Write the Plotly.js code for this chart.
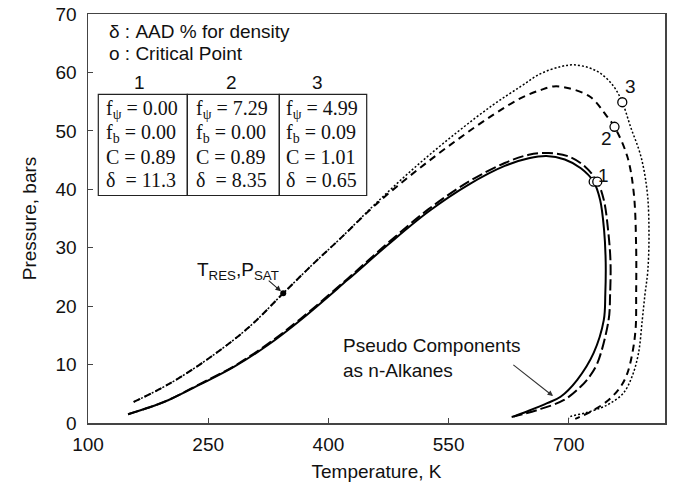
<!DOCTYPE html>
<html><head><meta charset="utf-8">
<script src="https://cdn.plot.ly/plotly-3.0.1.min.js"></script>
<style>html,body{margin:0;padding:0;background:#fff}</style>
</head><body><div id="chart" style="width:673px;height:487px"></div>
<script>
// Case 1 (solid)
const T1 = [150, 175, 200, 240, 282, 325, 365, 424, 475, 525, 575, 620, 650, 672, 695, 715, 731, 739, 744, 746, 745.5, 743.6, 731, 710.5, 689.7, 673, 650, 631];
const P1 = [1.5, 2.6, 3.9, 6.6, 9.6, 13.4, 17.6, 24.5, 30.6, 36.2, 40.8, 44.0, 45.3, 45.7, 45.1, 43.6, 41.3, 38.2, 33.0, 27.5, 22.0, 17.6, 12.0, 7.4, 4.5, 3.4, 2.1, 1.1];
// Pseudo components as n-alkanes (long dash)
const TA = [150, 175, 200, 240, 282, 325, 365, 424, 475, 525, 575, 620, 650, 675, 700, 720, 735.5, 743.6, 749, 752, 751.5, 749.6, 735.5, 725, 714.6, 693.4, 660, 628];
const PA = [1.5, 2.6, 3.9, 6.7, 9.7, 13.6, 17.8, 24.7, 30.9, 36.6, 41.3, 44.5, 45.9, 46.2, 45.6, 43.9, 41.3, 38.2, 33.0, 27.5, 22.0, 17.6, 10.2, 7.8, 6.2, 3.9, 2.2, 1.0];
// Case 2 (dashed)
const T2 = [157, 200, 250, 300, 343.6, 380, 415, 460, 510, 560, 605, 640, 665, 681, 700, 727, 748, 757, 773, 781, 784, 784, 783.5, 780, 773, 764.6, 750, 731, 714.6, 708];
const P2 = [3.6, 6.6, 11.0, 16.3, 22.2, 27.1, 31.6, 37.5, 43.2, 48.4, 52.7, 55.6, 57.0, 57.6, 57.3, 55.8, 52.4, 50.7, 45.6, 39.4, 30.0, 22.0, 16.5, 12.5, 8.5, 6.2, 4.0, 2.2, 1.1, 0.7];
// Case 3 (dotted)
const T3 = [157, 200, 250, 300, 343.6, 380, 415, 460, 510, 560, 605, 640, 665, 690, 706, 725, 740, 756, 766.7, 777, 790, 798, 800, 798.5, 795, 791.6, 787, 779, 768, 752, 740, 720, 702, 699.6];
const P3 = [3.6, 6.6, 11.0, 16.3, 22.2, 27.1, 31.6, 37.7, 44.0, 49.7, 54.4, 57.6, 59.8, 61.0, 61.3, 60.8, 59.8, 57.6, 54.9, 50.7, 45.6, 39.3, 32.0, 26.0, 22.0, 17.6, 12.0, 8.0, 5.1, 3.4, 2.6, 1.7, 1.1, 0.8];
// Critical points
const cpT = [731, 735.5, 757, 766.7];
const cpP = [41.3, 41.3, 50.7, 54.9];
// Reservoir point
const resT = [343.6];
const resP = [22.2];
// Ticks
const xTicks = [100, 250, 400, 550, 700];
const yTicks = [0, 10, 20, 30, 40, 50, 60, 70];
// Table
const colHeads = ['1', '2', '3'];
const fPsi = ['0.00', '7.29', '4.99'];
const fB = ['0.00', '0.00', '0.09'];
const Cval = ['0.89', '0.89', '1.01'];
const delta = ['11.3', '8.35', '0.65'];

const K = 'black';
const sp = {shape: 'spline', smoothing: 1};
const traces = [
  {x: TA, y: PA, mode: 'lines', line: Object.assign({color: K, width: 2, dash: '11px,4px'}, sp)},
  {x: T1, y: P1, mode: 'lines', line: Object.assign({color: K, width: 2}, sp)},
  {x: T2, y: P2, mode: 'lines', line: Object.assign({color: K, width: 2, dash: '7px,5px'}, sp)},
  {x: T3, y: P3, mode: 'lines', line: Object.assign({color: K, width: 1.5, dash: '2px,2px'}, sp)},
  {x: cpT, y: cpP, mode: 'markers', marker: {symbol: 'circle', size: 9, color: 'white', line: {color: K, width: 1.3}}},
  {x: resT, y: resP, mode: 'markers', marker: {symbol: 'circle', size: 6, color: K}}
];

const W = 577, H = 409, L0 = 88, B0 = 423;
const px = v => (v - L0) / W;
const py = v => (B0 - v) / H;
const sans = 'Arial, "Liberation Sans", sans-serif';
const serif = '"Times New Roman", "Liberation Serif", serif';

const ann = [];
function txt(x, y, t, opts) {
  ann.push(Object.assign({xref: 'paper', yref: 'paper', x: px(x), y: py(y), text: t, showarrow: false,
    xanchor: 'left', yanchor: 'middle', font: {family: sans, size: 19, color: '#111'}}, opts || {}));
}
txt(107, 32, 'δ : AAD % for density');
txt(107, 53, 'o : Critical Point');
const colX = [139.3, 231, 317.7];
const cellX = [104, 194, 284];
const rowY = [110, 133.3, 156.5, 180];
for (let i = 0; i < 3; i++) {
  txt(colX[i], 83, colHeads[i], {xanchor: 'center'});
  const sf = {family: serif, size: 20, color: '#111'};
  txt(cellX[i], rowY[0], 'f<sub>ψ</sub> = ' + fPsi[i], {font: sf});
  txt(cellX[i], rowY[1], 'f<sub>b</sub> = ' + fB[i], {font: sf});
  txt(cellX[i], rowY[2], 'C = ' + Cval[i], {font: sf});
  txt(cellX[i], rowY[3], 'δ\u00a0 = ' + delta[i], {font: sf});
}
txt(603, 175, '1', {xanchor: 'center'});
txt(606, 138, '2', {xanchor: 'center'});
txt(630.5, 86.5, '3', {xanchor: 'center'});
txt(281, 271, 'T<sub>RES</sub>,P<sub>SAT</sub>', {xanchor: 'right'});
txt(341, 358, 'Pseudo Components<br>as n-Alkanes', {align: 'left'});
ann.push({x: resT[0], y: resP[0], xref: 'x', yref: 'y', text: '', showarrow: true, ax: -16, ay: -14,
  arrowhead: 2, arrowsize: 1, arrowwidth: 1.1, arrowcolor: '#222', standoff: 3});
ann.push({x: 681.3, y: 4.5, xref: 'x', yref: 'y', text: '', showarrow: true, ax: -42, ay: -33,
  arrowhead: 2, arrowsize: 1, arrowwidth: 1.1, arrowcolor: '#333', standoff: 1});

const boxX = [98.3, 187.3, 279.3, 366.7];
const shapes = [];
for (let i = 0; i < 3; i++) {
  shapes.push({type: 'rect', xref: 'paper', yref: 'paper', x0: px(boxX[i]), x1: px(boxX[i + 1]),
    y0: py(195.5), y1: py(94.3), line: {color: '#222', width: 1.2}});
}

const axisCommon = {ticks: 'inside', ticklen: 5, tickcolor: '#444', tickwidth: 1.2, showline: true, mirror: true,
  linecolor: '#444', linewidth: 1.5, showgrid: false, zeroline: false,
  tickfont: {family: sans, size: 19, color: '#111'}};

const layout = {
  width: 673, height: 487,
  margin: {l: 88, r: 8, t: 14, b: 64, pad: 0},
  paper_bgcolor: 'white', plot_bgcolor: 'white',
  showlegend: false,
  font: {family: sans, size: 19, color: '#111'},
  xaxis: Object.assign({}, axisCommon, {range: [100, 820], tickvals: xTicks, ticklabelstandoff: 4,
    title: {text: 'Temperature, K', font: {family: sans, size: 19, color: '#111'}, standoff: 10}}),
  yaxis: Object.assign({}, axisCommon, {range: [0, 70], tickvals: yTicks, ticklabelstandoff: 6,
    title: {text: 'Pressure, bars', font: {family: sans, size: 19, color: '#111'}, standoff: 14}}),
  annotations: ann,
  shapes: shapes
};
Plotly.newPlot('chart', traces, layout, {displayModeBar: false, staticPlot: true});
</script>
</body></html>
